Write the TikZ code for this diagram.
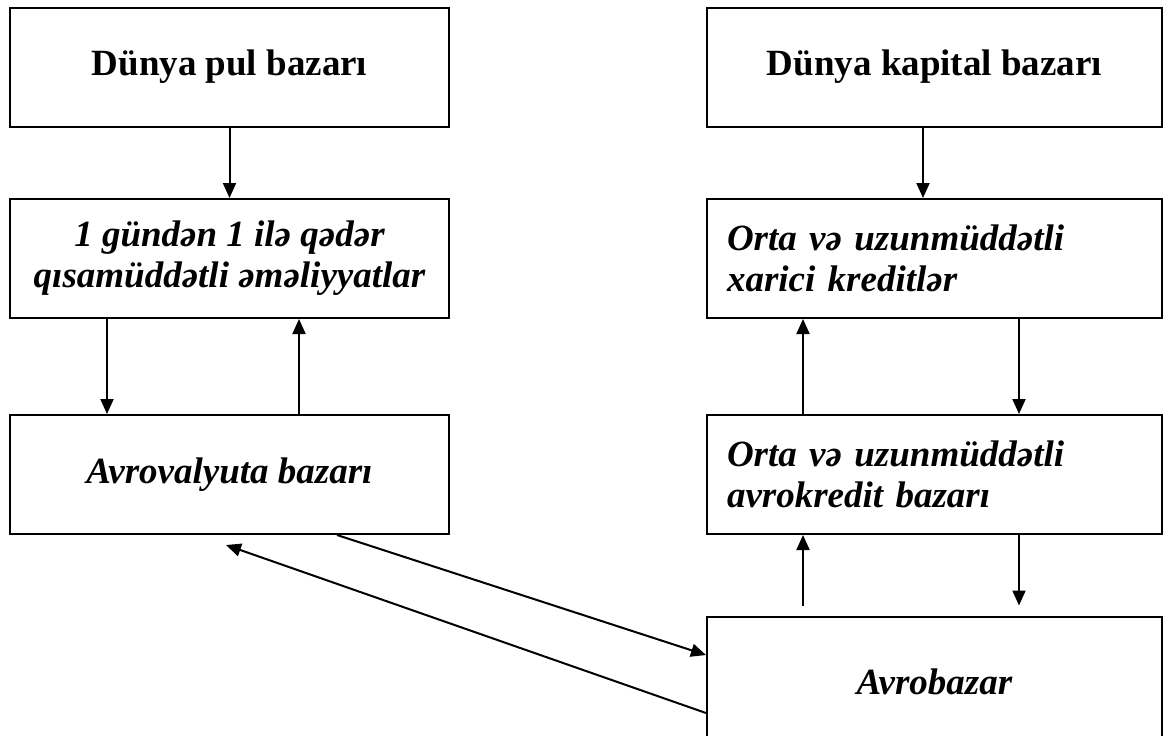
\documentclass[tikz,border=0pt]{standalone}
\usepackage{fontspec}
\setmainfont{Liberation Serif}
\usetikzlibrary{arrows.meta}

\begin{document}
\begin{tikzpicture}[x=0.5pt,y=-0.5pt]
    \tikzset{
      box/.style={draw,line width=1pt,minimum width=219.5pt,minimum height=59.5pt,
        inner sep=0pt,align=center,font=\fontsize{18.5}{20.5}\selectfont\bfseries},
      itbox/.style={box,font=\fontsize{18.5}{20.5}\selectfont\bfseries\itshape},
      leftbox/.style={itbox,align=left,inner xsep=10pt,text width=207.5pt},
      arr/.style={line width=1pt,-{Triangle[length=7.5pt,width=6.5pt]}}
    }
    \clip (0,0) rectangle (1163,735);

        %LEFT COLUMN
        \node[box] (pul) at (229.5,67) {Dünya pul bazarı};
        \node[itbox] (qisa) at (229.5,258.5) {1 gündən 1 ilə qədər\\qısamüddətli əməliyyatlar};
        \node[itbox] (valyuta) at (229.5,474.5) {Avrovalyuta bazarı};

        %RIGHT COLUMN
        \node[box,minimum width=227.5pt] (kapital) at (934.5,67) {Dünya kapital bazarı};
        \node[leftbox] (xarici) at (934.5,258.5) {Orta və uzunmüddətli\\xarici kreditlər};
        \node[leftbox] (avrokredit) at (934.5,474.5) {Orta və uzunmüddətli\\avrokredit bazarı};
        \node[itbox,minimum width=227.5pt,minimum height=65.5pt] (avrobazar) at (934.5,682) {Avrobazar};

      \draw[arr] (pul) -- (qisa);
      \draw[arr] ([xshift=-5.75pt]kapital.south) -- ([xshift=-5.75pt]xarici.north);

      \draw[arr] ([xshift=-61.25pt]qisa.south) -- ([xshift=-61.25pt]valyuta.north);
      \draw[arr] ([xshift=34.75pt]valyuta.north) -- ([xshift=34.75pt]qisa.south);

      \draw[arr] ([xshift=42.25pt]xarici.south) -- ([xshift=42.25pt]avrokredit.north);
      \draw[arr] ([xshift=-65.75pt]avrokredit.north) -- ([xshift=-65.75pt]xarici.south);

      \draw[arr,shorten >=5pt] ([xshift=42.25pt]avrokredit.south) -- ([xshift=42.25pt]avrobazar.north);
      \draw[arr,shorten <=5pt] ([xshift=-65.75pt]avrobazar.north) -- ([xshift=-65.75pt]avrokredit.south);

      \draw[arr] ([xshift=53.75pt]valyuta.south) -- ([yshift=13.5pt]avrobazar.west);
      \draw[arr] ([yshift=-15.5pt]avrobazar.west) -- ([xshift=-1.75pt,yshift=-5pt]valyuta.south);
    \end{tikzpicture}
\end{document}
